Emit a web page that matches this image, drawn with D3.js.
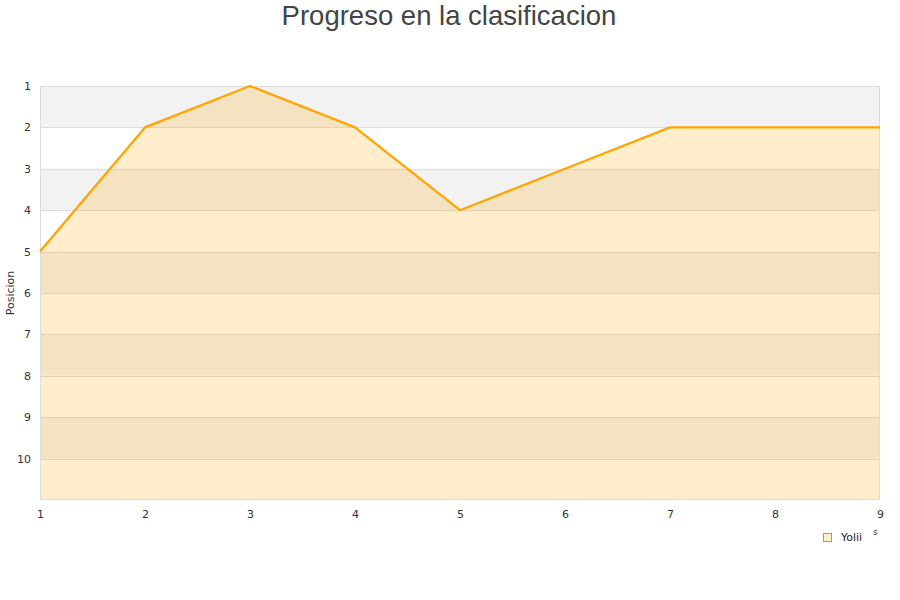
<!DOCTYPE html>
<html><head><meta charset="utf-8">
<script src="https://cdn.jsdelivr.net/npm/d3@7"></script>
<style>body{margin:0;background:#fff;font-family:"DejaVu Sans",sans-serif;}</style>
</head><body>
<svg id="c" width="900" height="600"></svg>
<script>
const jornadas = [1,2,3,4,5,6,7,8,9];
const posiciones = [5,2,1,2,4,3,2,2,2];
const yTicks = [1,2,3,4,5,6,7,8,9,10];
const seriesName = "Yolii";
const titleText = "Progreso en la clasificacion";
const yTitle = "Posicion";

const svg = d3.select("#c");
const m = {l:40, r:880, t:86, b:500};
const x = d3.scaleLinear().domain([1,9]).range([m.l, m.r]);
const y = d3.scaleLinear().domain([1,11]).range([m.t, m.b]);

// alternating bands
const bands = d3.range(1, 11);
svg.append("g").selectAll("rect").data(bands).join("rect")
  .attr("x", m.l).attr("width", m.r - m.l)
  .attr("y", d => y(d)).attr("height", d => y(d+1) - y(d))
  .attr("fill", (d,i) => i % 2 === 0 ? "#f2f2f2" : "#ffffff");

// grid lines
svg.append("g").selectAll("line").data(yTicks).join("line")
  .attr("x1", m.l).attr("x2", m.r)
  .attr("y1", d => Math.round(y(d)) + 0.5).attr("y2", d => Math.round(y(d)) + 0.5)
  .attr("stroke", "#dddddd").attr("stroke-width", 1);

// area
const area = d3.area().x((d,i) => x(jornadas[i])).y0(y(11)).y1(d => y(d));
svg.append("path").datum(posiciones).attr("d", area)
  .attr("fill", "#ffa500").attr("fill-opacity", 0.2);

// frame
svg.append("rect").attr("x", m.l + 0.5).attr("y", m.t + 0.5)
  .attr("width", m.r - m.l - 1).attr("height", m.b - m.t - 1)
  .attr("fill", "none").attr("stroke", "#dddddd");

// line
const line = d3.line().x((d,i) => x(jornadas[i])).y(d => y(d));
svg.append("path").datum(posiciones).attr("d", line)
  .attr("fill", "none").attr("stroke", "#ffa500").attr("stroke-width", 2.3)
  .attr("stroke-linejoin", "round");

// y axis labels
const yAxis = d3.axisLeft(y).tickValues(yTicks).tickSize(0).tickPadding(9);
const gy = svg.append("g").attr("transform", `translate(${m.l},0)`).call(yAxis);
gy.select(".domain").remove();
gy.selectAll("text").attr("fill", "#333").style("font-size", "11px").style("font-family", "DejaVu Sans, sans-serif");

// x axis labels
const xAxis = d3.axisBottom(x).tickValues(jornadas).tickSize(0).tickPadding(9);
const gx = svg.append("g").attr("transform", `translate(0,${m.b})`).call(xAxis);
gx.select(".domain").remove();
gx.selectAll("text").attr("fill", "#333").attr("dy", "0.8em").style("font-size", "11px").style("font-family", "DejaVu Sans, sans-serif");

// title
svg.append("text").attr("x", 449).attr("y", 25).attr("text-anchor", "middle")
  .attr("fill", "#444").style("font-size", "27.5px").style("font-family", "Liberation Sans, Arial, sans-serif")
  .text(titleText);

// y title
svg.append("text").attr("transform", "translate(14,293) rotate(-90)")
  .attr("text-anchor", "middle").attr("fill", "#333").style("font-size", "11px")
  .text(yTitle);

// legend
const lg = svg.append("g").attr("transform", "translate(823,533)");
lg.append("rect").attr("x", 0.5).attr("y", 0.5).attr("width", 8).attr("height", 8)
  .attr("fill", "#ffedcc").attr("stroke", "#999");
lg.append("text").attr("x", 18).attr("y", 8).attr("fill", "#222").style("font-size", "11px").text(seriesName);
svg.append("text").attr("x", 873).attr("y", 535).attr("fill", "#333").style("font-size", "9px").text("s");
</script>
</body></html>
